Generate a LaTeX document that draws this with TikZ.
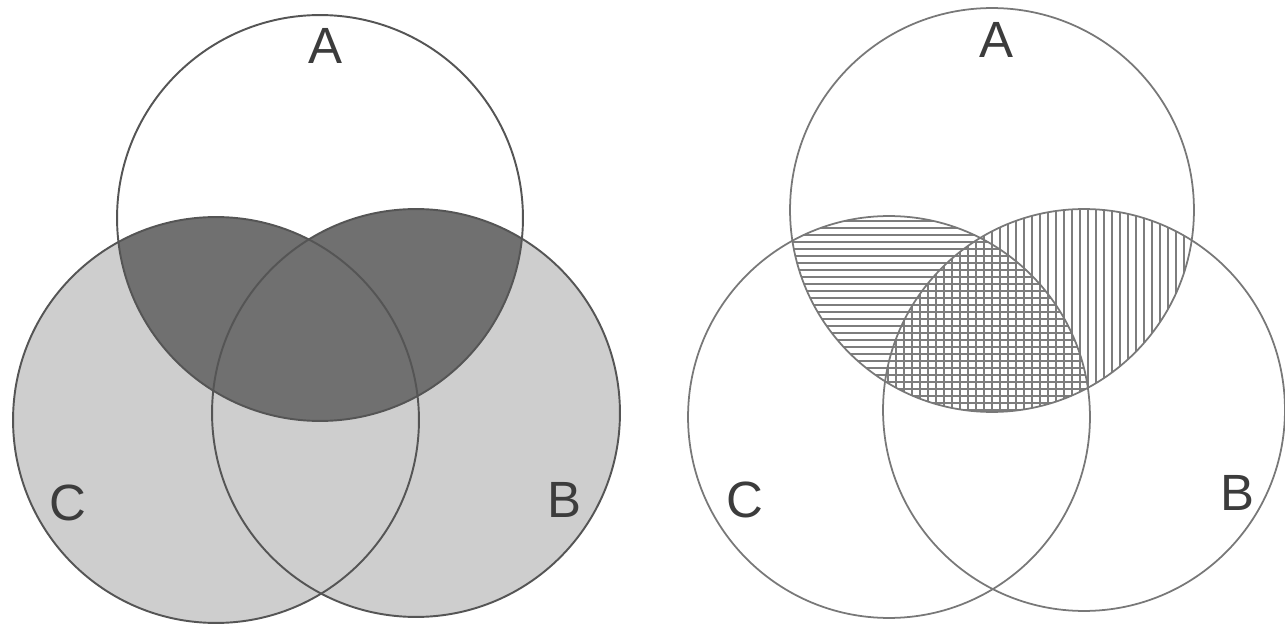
\documentclass[tikz,border=0pt]{standalone}
\usepackage{fontspec}
\setmainfont{Liberation Sans}
\definecolor{lightfill}{RGB}{206,206,206}
\definecolor{darkfill}{RGB}{112,112,112}
\definecolor{outlineL}{RGB}{85,85,85}
\definecolor{outlineR}{RGB}{120,120,120}
\definecolor{hatchcol}{RGB}{125,125,125}
\definecolor{labelcol}{RGB}{60,60,60}
\tikzset{
  outlineleft/.style={draw=outlineL, line width=1.1pt},
  outlineright/.style={draw=outlineR, line width=1.0pt},
  hatchline/.style={draw=hatchcol, line width=0.6pt},
  setlabel/.style={text=labelcol, font=\fontsize{29}{34}\selectfont, inner sep=0pt}
}
\begin{document}
\begin{tikzpicture}[x=0.02cm,y=-0.02cm]
\useasboundingbox (0,0) rectangle (1285,628);
\fill[white] (0,0) rectangle (1285,628);
% ---------- left diagram ----------
\coordinate (LA) at (320,218);
\coordinate (LC) at (216,420);
\coordinate (LB) at (416,413);
\fill[lightfill] (LC) circle[radius=4.06cm];
\fill[lightfill] (LB) circle[radius=4.08cm];
\begin{scope}
  \clip (LA) circle[radius=4.06cm];
  \fill[darkfill] (LC) circle[radius=4.06cm];
  \fill[darkfill] (LB) circle[radius=4.08cm];
\end{scope}
\draw[outlineleft] (LA) circle[radius=4.06cm];
\draw[outlineleft] (LC) circle[radius=4.06cm];
\draw[outlineleft] (LB) circle[radius=4.08cm];
\node[setlabel] (labLA) at (325,46) {A};
\node[setlabel] (labLC) at (68,503) {C};
\node[setlabel] (labLB) at (564,500) {B};
% ---------- right diagram ----------
\coordinate (RA) at (992,210);
\coordinate (RC) at (889,417);
\coordinate (RB) at (1084,410);
\begin{scope}
  \clip (RA) circle[radius=4.04cm];
  \clip (RC) circle[radius=4.02cm];
  \foreach \y in {200,207,...,430} \draw[hatchline] (780,\y) -- (1200,\y);
\end{scope}
\begin{scope}
  \clip (RA) circle[radius=4.04cm];
  \clip (RB) circle[radius=4.02cm];
  \foreach \x in {880,888,...,1200} \draw[hatchline] (\x,190) -- (\x,420);
\end{scope}
\draw[outlineright] (RA) circle[radius=4.04cm];
\draw[outlineright] (RC) circle[radius=4.02cm];
\draw[outlineright] (RB) circle[radius=4.02cm];
\node[setlabel] (labRA) at (996,40) {A};
\node[setlabel] (labRC) at (745,500) {C};
\node[setlabel] (labRB) at (1237,493) {B};
\end{tikzpicture}
\end{document}
